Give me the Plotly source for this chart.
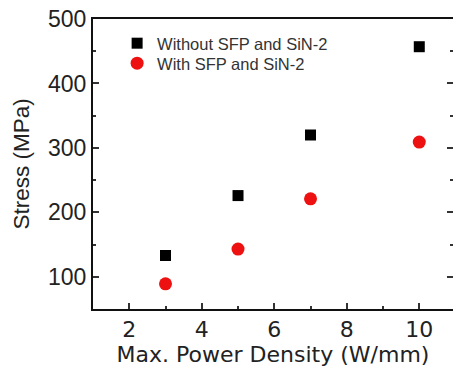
import plotly.graph_objects as go

x_vals = [3, 5, 7, 10]
without_sfp = [133, 226, 320, 457]
with_sfp = [89, 143, 221, 309]
series_names = ["Without SFP and SiN-2", "With SFP and SiN-2"]
x_title = "Max. Power Density (W/mm)"
y_title = "Stress (MPa)"
x_ticks = [2, 4, 6, 8, 10]
x_minor = [3, 5, 7, 9]
y_ticks = [100, 200, 300, 400, 500]
y_minor = [150, 250, 350, 450]

FONT = "Liberation Sans, Arial, sans-serif"
WIDE = "DejaVu Sans, sans-serif"
TXT = "#222"

fig = go.Figure()
fig.add_trace(go.Scatter(x=x_vals, y=without_sfp, mode="markers", name=series_names[0],
                         legend="legend",
                         marker=dict(symbol="square", size=11, color="black")))
fig.add_trace(go.Scatter(x=x_vals, y=with_sfp, mode="markers", name=series_names[1],
                         legend="legend2",
                         marker=dict(symbol="circle", size=13, color="#ee1111")))
# invisible trace to anchor the right-side mirrored tick axis
fig.add_trace(go.Scatter(x=x_vals, y=with_sfp, mode="markers", yaxis="y2", showlegend=False,
                         hoverinfo="skip", marker=dict(opacity=0)))

leg_common = dict(xanchor="left", yanchor="top",
                  font=dict(size=16.5, family=FONT, color="#333"),
                  bgcolor="rgba(0,0,0,0)", itemwidth=30, tracegroupgap=0)

fig.update_layout(
    width=453, height=373,
    margin=dict(l=93, r=0, t=19, b=64),
    paper_bgcolor="white", plot_bgcolor="white",
    font=dict(family=FONT, color=TXT),
    showlegend=True,
    legend=dict(x=0.067, y=0.976, **leg_common),
    legend2=dict(x=0.067, y=0.907, **leg_common),
    xaxis=dict(range=[1, 10.93], showline=True, linecolor="#111", linewidth=2, mirror=True,
               ticks="inside", ticklen=6, tickwidth=1.5, tickcolor="#333",
               tickvals=x_ticks, automargin=False,
               minor=dict(tickvals=x_minor, ticks="inside", ticklen=3, tickcolor="#333"),
               showgrid=False, zeroline=False,
               tickfont=dict(size=22, family=WIDE, color=TXT),
               title=dict(text=x_title, font=dict(size=22, family=WIDE, color=TXT), standoff=2)),
    yaxis=dict(range=[50, 500], showline=True, linecolor="#111", linewidth=2, mirror=False,
               ticks="inside", ticklen=6, tickwidth=1.5, tickcolor="#333",
               tickvals=y_ticks, automargin=False,
               minor=dict(tickvals=y_minor, ticks="inside", ticklen=3, tickcolor="#333"),
               showgrid=False, zeroline=False,
               tickfont=dict(size=23, family=FONT, color=TXT),
               title=dict(text=y_title, font=dict(size=22.5, family=FONT, color=TXT), standoff=12)),
    yaxis2=dict(range=[50, 500], overlaying="y", side="right", showline=False, automargin=False,
                ticks="inside", ticklen=6, tickwidth=1.5, tickcolor="#333",
                tickvals=y_ticks, showticklabels=False,
                minor=dict(tickvals=y_minor, ticks="inside", ticklen=3, tickcolor="#333"),
                showgrid=False, zeroline=False),
)

fig.write_html("out.html", config={"displayModeBar": False},
               post_script="document.body.style.margin='0';")
